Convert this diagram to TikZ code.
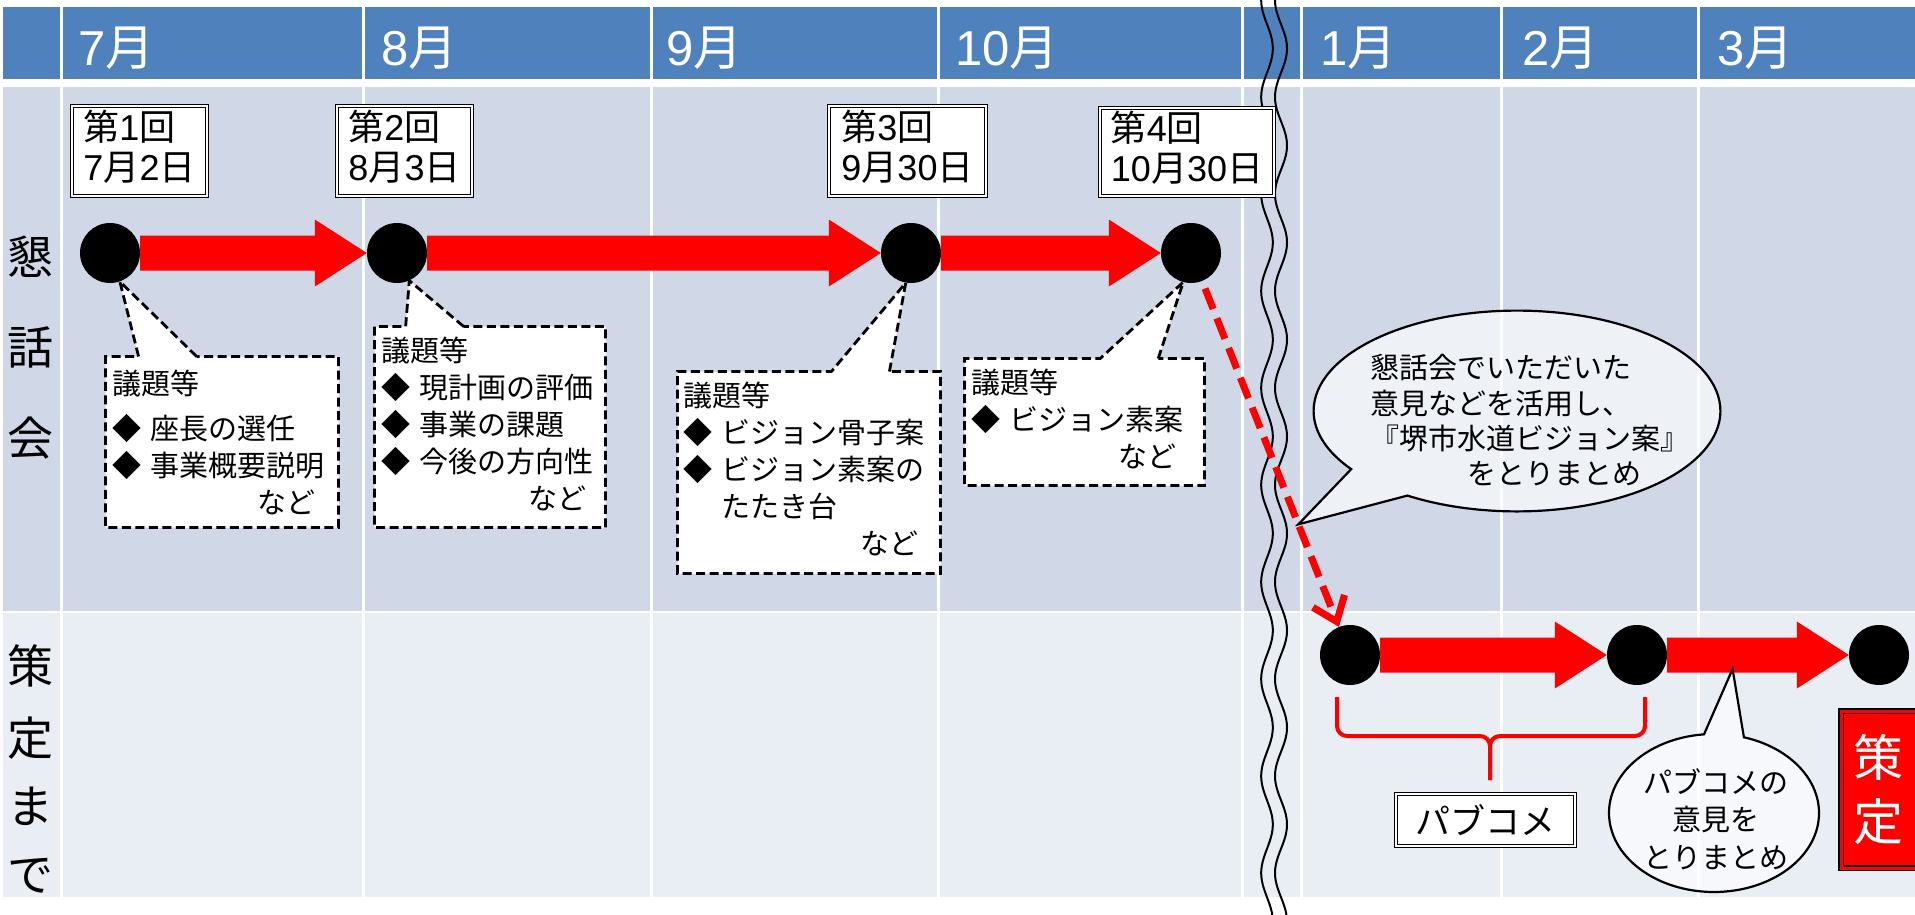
\documentclass[tikz,border=0pt]{standalone}
\usepackage{fontspec}
\setmainfont{Noto Sans CJK JP}
\newfontfamily\digitfont{Liberation Sans}
\newcommand{\dn}[1]{{\digitfont #1}}
\usetikzlibrary{calc,shapes.callouts,shapes.geometric,arrows.meta}
\definecolor{hdrblue}{HTML}{4F81BD}
\definecolor{rowa}{HTML}{D0D8E8}
\definecolor{rowb}{HTML}{E9EDF4}
\definecolor{arrowred}{HTML}{FF0000}
\pgfdeclarelayer{bg}
\pgfsetlayers{bg,main}
\newcommand{\jfs}[2]{\fontsize{#1pt}{#2pt}\selectfont}
\newcommand{\blockarrow}[2]{%
  \fill[arrowred] let \p1=(#1.east), \p2=(#2.west) in
   (\x1,\y1+17.5pt) -- (\x2-52pt,\y1+17.5pt) -- (\x2-52pt,\y1+33.5pt) -- (\x2,\y2)
   -- (\x2-52pt,\y1-33.5pt) -- (\x2-52pt,\y1-17.5pt) -- (\x1,\y1-17.5pt) -- cycle;}
\begin{document}
\begin{tikzpicture}[x=1pt,y=-1pt,
  dot/.style={circle,fill=black,minimum size=60pt,inner sep=0pt},
  month/.style={anchor=west,inner sep=0pt,text=white,font=\jfs{49}{52}},
  side/.style={inner sep=0pt,font=\jfs{46}{50}},
  datebox/.style={draw=black,double=white,double distance=2.2pt,line width=1.1pt,fill=white,inner sep=0pt,font=\jfs{36}{40}},
  dcall/.style={rectangle callout,draw=black,fill=white,line width=2.8pt,dash pattern=on 9pt off 4.5pt,inner sep=0pt,callout pointer width=58pt},
  ctext/.style={anchor=north west,inner sep=0pt,font=\jfs{29}{37}},
  bubble/.style={ellipse callout,draw=black,line width=2.2pt,fill=white,fill opacity=0.65,draw opacity=1,inner sep=0pt},
  wave/.style={draw=black,line width=2pt},
  bracered/.style={draw=arrowred,line width=4pt,rounded corners=10pt},
  dasharrow/.style={draw=arrowred,line width=7pt,dash pattern=on 22pt off 10pt,-{Straight Barb[length=22pt,width=34pt]},shorten <=8pt}
]
\useasboundingbox (0,0) rectangle (1915,915);
\begin{pgfonlayer}{bg}
  \fill[white] (0,0) rectangle (1915,915);
  \fill[hdrblue] (3,7) rectangle (1915,79);
  \fill[rowa] (3,87) rectangle (1915,610.5);
  \fill[rowb] (3,613) rectangle (1915,897);
  \foreach \gx in {61.5,363.5,651.5,938.5,1242.5,1301.5,1501.5,1698.5}
    \draw[white,line width=3pt] (\gx,7) -- (\gx,897);
  \draw[wave] plot[domain=0:915,samples=400] ({1267-5.8*cos(3.7113*\x)},\x);
  \draw[wave] plot[domain=0:915,samples=400] ({1281-6*cos(3.7113*\x)},\x);
\end{pgfonlayer}

% month header
\node[month] (m7) at (78,48) {\dn{7}月};
\node[month] (m8) at (381,48) {\dn{8}月};
\node[month] (m9) at (666,48) {\dn{9}月};
\node[month] (m10) at (955,48) {\dn{10}月};
\node[month] (m1) at (1320,48) {\dn{1}月};
\node[month] (m2) at (1522,48) {\dn{2}月};
\node[month] (m3) at (1717,48) {\dn{3}月};

% side labels
\node[side] (la) at (30,257) {懇};
\node[side] (lb) at (30,347) {話};
\node[side] (lc) at (30,438) {会};
\node[side] (ld) at (30,666) {策};
\node[side] (le) at (30,738) {定};
\node[side] (lf) at (30,806) {ま};
\node[side] (lg) at (30,876) {で};

% milestones
\node[dot] (c1) at (110,253) {};
\node[dot] (c2) at (397,253) {};
\node[dot] (c3) at (911,253) {};
\node[dot] (c4) at (1191,253) {};
\node[dot] (c5) at (1350,655) {};
\node[dot] (c6) at (1637,655) {};
\node[dot] (c7) at (1879,655) {};

% date boxes
\node[datebox,minimum width=134.6pt,minimum height=89.6pt] (b1) at (139.5,151)
  {\begin{tabular}{@{}l@{}}第\dn{1}回\\\dn{7}月\dn{2}日\end{tabular}};
\node[datebox,minimum width=134.6pt,minimum height=89.6pt] (b2) at (404.5,151)
  {\begin{tabular}{@{}l@{}}第\dn{2}回\\\dn{8}月\dn{3}日\end{tabular}};
\node[datebox,minimum width=156.6pt,minimum height=89.6pt] (b3) at (907.5,151)
  {\begin{tabular}{@{}l@{}}第\dn{3}回\\\dn{9}月\dn{30}日\end{tabular}};
\node[datebox,minimum width=173.6pt,minimum height=87.6pt] (b4) at (1187,152)
  {\begin{tabular}{@{}l@{}}第\dn{4}回\\\dn{10}月\dn{30}日\end{tabular}};

% dashed callouts
\begin{pgfonlayer}{bg}
  \node[dcall,minimum width=233pt,minimum height=171pt,callout absolute pointer={(c1.-71)}] (k1) at (222,442) {};
  \node[dcall,minimum width=231pt,minimum height=201pt,callout absolute pointer={(c2.-66)}] (k2) at (490,427) {};
  \node[dcall,minimum width=263pt,minimum height=202pt,callout absolute pointer={(c3.-100)}] (k3) at (809,472.5) {};
  \node[dcall,minimum width=240pt,minimum height=127pt,callout absolute pointer={(c4.-105)}] (k4) at (1084.5,422) {};
\end{pgfonlayer}

\node[ctext] (t1) at (112,368) {\begin{tabular}{@{}l@{}}議題等\\[8pt]◆\hspace{9pt}座長の選任\\◆\hspace{9pt}事業概要説明\\\hspace*{145pt}など\end{tabular}};
\node[ctext] (t2) at (381,335) {\begin{tabular}{@{}l@{}}議題等\\◆\hspace{9pt}現計画の評価\\◆\hspace{9pt}事業の課題\\◆\hspace{9pt}今後の方向性\\\hspace*{147pt}など\end{tabular}};
\node[ctext] (t3) at (683,380) {\begin{tabular}{@{}l@{}}議題等\\◆\hspace{9pt}ビジョン骨子案\\◆\hspace{9pt}ビジョン素案の\\\hspace*{38pt}たたき台\\\hspace*{177pt}など\end{tabular}};
\node[ctext] (t4) at (971,367) {\begin{tabular}{@{}l@{}}議題等\\◆\hspace{9pt}ビジョン素案\\\hspace*{147pt}など\end{tabular}};

% red block arrows
\blockarrow{c1}{c2}
\blockarrow{c2}{c3}
\blockarrow{c3}{c4}
\blockarrow{c5}{c6}
\blockarrow{c6}{c7}

% big speech ellipse
\coordinate (p1) at ($(c4)!0.675!(c5)$);
\node[bubble,minimum width=406.8pt,minimum height=200.8pt,callout absolute pointer={(p1)},callout pointer arc=22] (e1) at (1517,411) {};
\node[anchor=north west,inner sep=0pt,font=\jfs{29}{35.3}] (e1t) at (1370,354)
  {\begin{tabular}{@{}l@{}}懇話会でいただいた\\意見などを活用し、\\『堺市水道ビジョン案』\\\hspace*{97pt}をとりまとめ\end{tabular}};

% small speech bubble
\coordinate (p2) at ($(c6.east)!0.36!(c7.west)+(0,14)$);
\node[bubble,minimum width=210pt,minimum height=158pt,callout absolute pointer={(p2)},callout pointer arc=22] (e2) at (1714,813) {};
\node[anchor=north,inner sep=0pt,font=\jfs{29}{37.5}] (e2t) at (1716,767)
  {\begin{tabular}{@{}c@{}}パブコメの\\意見を\\とりまとめ\end{tabular}};

% brace
\draw[bracered] (1337,697) -- (1337,736) -- (1490,736) -- (1490,780);
\draw[bracered] (1490,780) -- (1490,736) -- (1645,736) -- (1645,697);
\node[datebox,font=\jfs{35}{40},minimum width=178.6pt,minimum height=51.6pt] (pb) at (1485.5,820) {パブコメ};

% final box
\node[draw=black,double=arrowred,double distance=3pt,line width=1.5pt,fill=arrowred,minimum width=89pt,minimum height=157pt,inner sep=0pt] (sb) at (1885.5,789.5) {};
\node[inner sep=0pt,text=white,font=\jfs{50}{52}] (s1) at (1878,757) {策};
\node[inner sep=0pt,text=white,font=\jfs{50}{52}] (s2) at (1878,822) {定};

% dashed connector
\draw[dasharrow] (c4) -- (c5);
\end{tikzpicture}
\end{document}
